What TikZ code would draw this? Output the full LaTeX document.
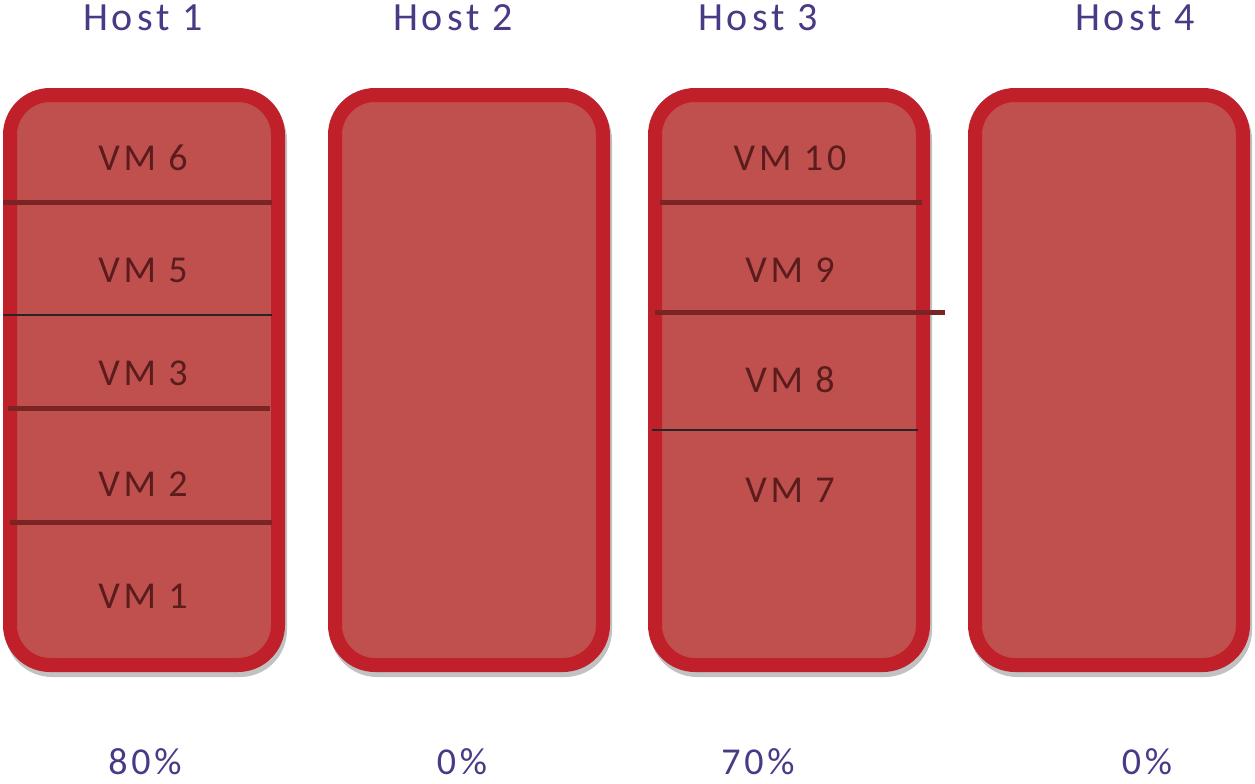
\documentclass[tikz,border=0pt]{standalone}
\usepackage{fontspec}
\setmainfont{Carlito}
\newfontfamily\spacedfont[LetterSpace=10]{Carlito}
\definecolor{boxfill}{HTML}{C0504D}
\definecolor{boxline}{HTML}{C0202A}
\definecolor{sepline}{HTML}{7A2424}
\definecolor{vmtext}{HTML}{5A1C1C}
\definecolor{hosttext}{HTML}{4A3A86}
\tikzset{
  hostbox/.style={draw=boxline, fill=boxfill, line width=14pt, rounded corners=40pt,
    minimum width=268pt, minimum height=570pt, inner sep=0pt},
  shadowbox/.style={draw=black!40, fill=black!40, opacity=0.6, line width=14pt, rounded corners=40pt,
    minimum width=268pt, minimum height=570pt, inner sep=0pt, xshift=2pt, yshift=-5pt},
  vmlabel/.style={text=vmtext, font=\spacedfont\fontsize{38}{38}\selectfont, inner sep=0pt},
  hostlabel/.style={text=hosttext, font=\spacedfont\fontsize{40}{40}\selectfont, inner sep=0pt},
  pctlabel/.style={text=hosttext, font=\spacedfont\fontsize{38}{38}\selectfont, inner sep=0pt},
  sepdark/.style={draw=sepline, line width=5pt},
  septhin/.style={draw=black!85, line width=2.2pt},
}
\begin{document}
\begin{tikzpicture}[x=1pt, y=-1pt]
\useasboundingbox (0,0) rectangle (1255,784);
% shadows
\node[shadowbox] (s1) at (144,380) {};
\node[shadowbox] (s2) at (469,380) {};
\node[shadowbox] (s3) at (789,380) {};
\node[shadowbox] (s4) at (1109,380) {};
% boxes
\node[hostbox] (box1) at (144,380) {};
\node[hostbox] (box2) at (469,380) {};
\node[hostbox] (box3) at (789,380) {};
\node[hostbox] (box4) at (1109,380) {};
% separators host 1
\draw[sepdark] (3,202) -- (272,202);
\draw[septhin] (3,315) -- (272,315);
\draw[sepdark] (8,408) -- (270,408);
\draw[sepdark] (10,522) -- (272,522);
% separators host 3
\draw[sepdark] (660,202) -- (922,202);
\draw[sepdark] (655,312) -- (945,312);
\draw[septhin] (652,430) -- (918,430);
% VM labels
\node[vmlabel] (vm6) at (143,158) {VM 6};
\node[vmlabel] (vm5) at (143,270) {VM 5};
\node[vmlabel] (vm3) at (143,373) {VM 3};
\node[vmlabel] (vm2) at (143,484) {VM 2};
\node[vmlabel] (vm1) at (143,596) {VM 1};
\node[vmlabel] (vm10) at (790,158) {VM 10};
\node[vmlabel] (vm9) at (790,270) {VM 9};
\node[vmlabel] (vm8) at (790,380) {VM 8};
\node[vmlabel] (vm7) at (790,490) {VM 7};
% host labels
\node[hostlabel] (h1) at (143,18) {Host 1};
\node[hostlabel] (h2) at (453,18) {Host 2};
\node[hostlabel] (h3) at (758,18) {Host 3};
\node[hostlabel] (h4) at (1135,18) {Host 4};
% percentages
\node[pctlabel] (p1) at (145,762) {80\%};
\node[pctlabel] (p2) at (462,762) {0\%};
\node[pctlabel] (p3) at (758,762) {70\%};
\node[pctlabel] (p4) at (1147,762) {0\%};
\end{tikzpicture}
\end{document}
